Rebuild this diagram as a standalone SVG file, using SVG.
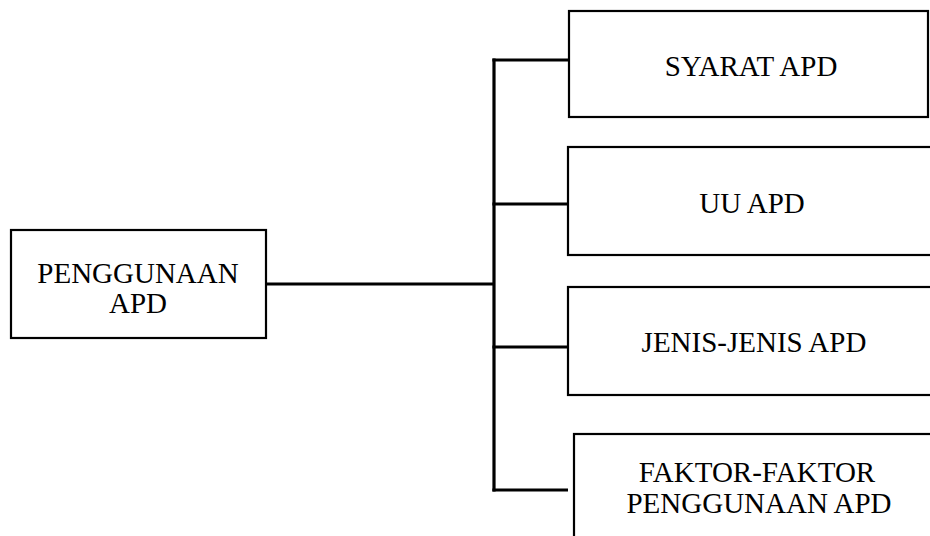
<svg xmlns="http://www.w3.org/2000/svg" width="930" height="536" viewBox="0 0 930 536">
<style>
.box{fill:#fff;stroke:#000;stroke-width:2.2}
.lbl{font-family:"Liberation Serif","Times New Roman",serif;font-size:29px;fill:#000;text-anchor:middle}
.con{fill:none;stroke:#000;stroke-width:3.2}
</style>
<rect width="930" height="536" fill="#fff"/>
<g id="connectors">
<line class="con" x1="266" y1="284" x2="494" y2="284"/>
<line class="con" x1="494" y1="58.4" x2="494" y2="491.6"/>
<line class="con" x1="492.4" y1="60" x2="569" y2="60"/>
<line class="con" x1="492.4" y1="204" x2="568" y2="204"/>
<line class="con" x1="492.4" y1="347" x2="568" y2="347"/>
<line class="con" x1="492.4" y1="490" x2="568" y2="490"/>
</g>
<g id="penggunaan-apd">
<rect class="box" x="11" y="230" width="255" height="108"/>
<text class="lbl" x="138" y="283">PENGGUNAAN</text>
<text class="lbl" x="138" y="313">APD</text>
</g>
<g id="syarat-apd">
<rect class="box" x="569" y="11" width="359" height="106"/>
<text class="lbl" x="751" y="76">SYARAT APD</text>
</g>
<g id="uu-apd">
<rect class="box" x="568" y="147" width="370" height="108"/>
<text class="lbl" x="752" y="213">UU APD</text>
</g>
<g id="jenis-apd">
<rect class="box" x="568" y="287" width="370" height="108"/>
<text class="lbl" x="754" y="352">JENIS-JENIS APD</text>
</g>
<g id="faktor-apd">
<rect class="box" x="574" y="434" width="370" height="120"/>
<text class="lbl" x="757" y="482">FAKTOR-FAKTOR</text>
<text class="lbl" x="759" y="513">PENGGUNAAN APD</text>
</g>
</svg>
